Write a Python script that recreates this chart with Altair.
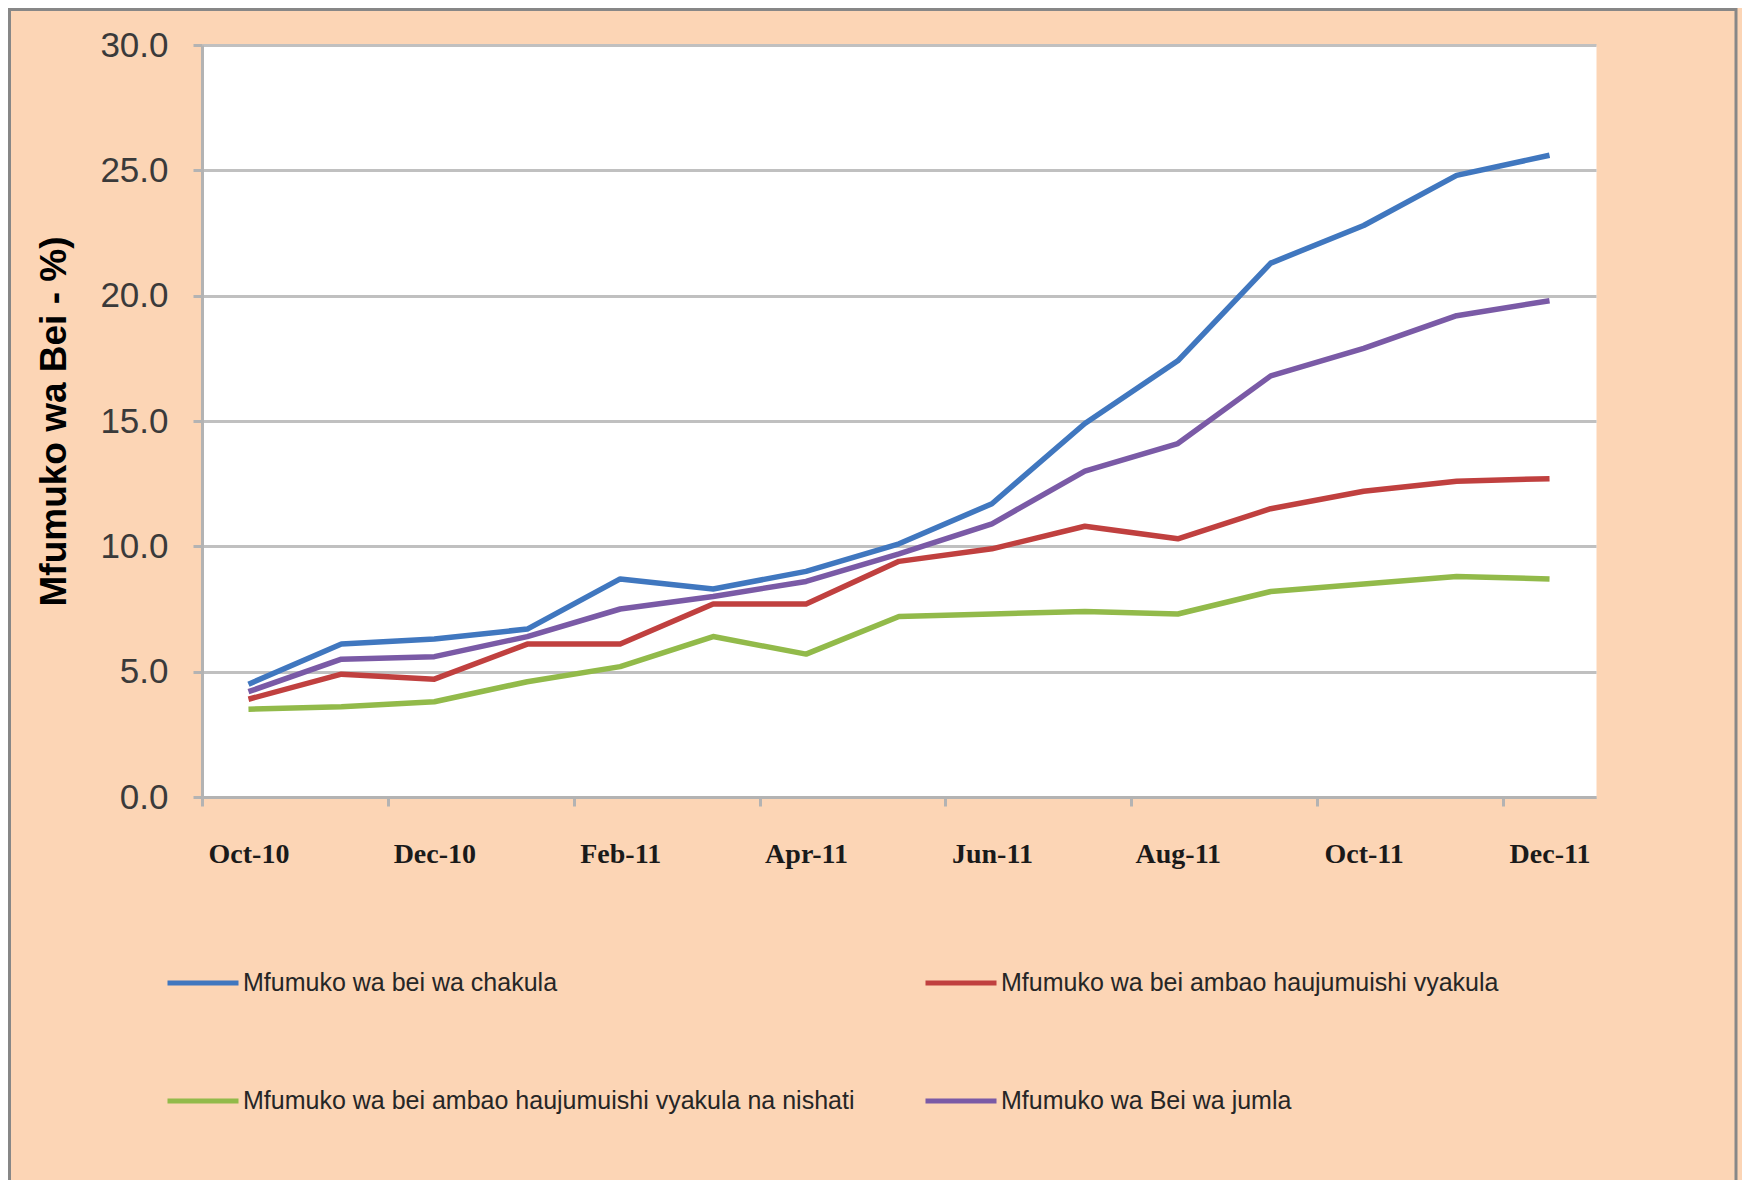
import altair as alt
import pandas as pd

months = ["Oct-10", "Nov-10", "Dec-10", "Jan-11", "Feb-11", "Mar-11", "Apr-11",
          "May-11", "Jun-11", "Jul-11", "Aug-11", "Sep-11", "Oct-11", "Nov-11", "Dec-11"]

series_names = [
    "Mfumuko wa bei wa chakula",
    "Mfumuko wa bei ambao haujumuishi vyakula",
    "Mfumuko wa bei ambao haujumuishi vyakula na nishati",
    "Mfumuko wa Bei wa jumla",
]
series_colors = ["#4077BF", "#C0403F", "#92BA4A", "#7A5AA6"]

chakula = [4.5, 6.1, 6.3, 6.7, 8.7, 8.3, 9.0, 10.1, 11.7, 14.9, 17.4, 21.3, 22.8, 24.8, 25.6]
bila_vyakula = [3.9, 4.9, 4.7, 6.1, 6.1, 7.7, 7.7, 9.4, 9.9, 10.8, 10.3, 11.5, 12.2, 12.6, 12.7]
bila_vyakula_nishati = [3.5, 3.6, 3.8, 4.6, 5.2, 6.4, 5.7, 7.2, 7.3, 7.4, 7.3, 8.2, 8.5, 8.8, 8.7]
jumla = [4.2, 5.5, 5.6, 6.4, 7.5, 8.0, 8.6, 9.7, 10.9, 13.0, 14.1, 16.8, 17.9, 19.2, 19.8]

y_ticks = [0, 5, 10, 15, 20, 25, 30]

rows = []
for name, vals in zip(series_names, [chakula, bila_vyakula, bila_vyakula_nishati, jumla]):
    for i, v in enumerate(vals):
        rows.append({"i": i, "month": months[i], "series": name, "value": v, "order": series_names.index(name)})
df = pd.DataFrame(rows)

W, H = 1394, 752
step = W / len(months)
label_expr = "[" + ",".join("'%s'" % m for m in months) + "][round(datum.value + 0.5)]"
tick_vals = [k - 0.5 for k in range(0, len(months), 2)]

lines = alt.Chart(df).mark_line(strokeWidth=5.5, strokeCap="butt", strokeJoin="round").encode(
    x=alt.X("i:Q", scale=alt.Scale(domain=[-0.5, len(months) - 0.5], nice=False, zero=False),
            axis=alt.Axis(values=tick_vals, labelExpr=label_expr, labelOffset=step / 2,
                          title=None, grid=False, tickSize=9, tickWidth=3, tickColor="#B3B3B3",
                          domainColor="#B3B3B3", domainWidth=3, labelFlush=False,
                          labelOverlap=False, labelBound=False,
                          labelFont="Liberation Serif", labelFontWeight="bold", labelFontSize=28,
                          labelColor="#1a1a1a", labelPadding=34)),
    y=alt.Y("value:Q", scale=alt.Scale(domain=[0, 30], nice=False),
            axis=alt.Axis(values=y_ticks, format=".1f", title="Mfumuko wa Bei - %)",
                          grid=True, gridColor="#C0C0C0", gridWidth=3,
                          tickSize=9, tickWidth=3, tickColor="#B3B3B3",
                          domainColor="#B3B3B3", domainWidth=3,
                          labelFont="Liberation Sans", labelFontSize=35, labelColor="#3a3a3a",
                          labelPadding=25,
                          titleFont="Liberation Sans", titleFontWeight="bold", titleFontSize=37,
                          titleColor="#000000", titleAngle=270, titleX=-148, titleY=H / 2,
                          titleAlign="center", titleBaseline="middle")),
    color=alt.Color("series:N", scale=alt.Scale(domain=series_names, range=series_colors),
                    sort=series_names,
                    legend=alt.Legend(title=None, orient="none", legendX=-37, legendY=900,
                                      columns=2, direction="horizontal",
                                      symbolType="stroke", symbolSize=5041, symbolStrokeWidth=5,
                                      labelFont="Liberation Sans", labelFontSize=25,
                                      labelColor="#262626", labelLimit=2000, labelOffset=2,
                                      columnPadding=60, rowPadding=67, padding=0)),
    order=alt.Order("order:Q"),
)

border = alt.Chart(alt.Data(values=[{}])).mark_rect(
    fill="transparent", stroke="#878787", strokeWidth=3
).encode(
    x=alt.value(-192.5), x2=alt.value(1534), y=alt.value(-35.5), y2=alt.value(1300)
)

chart = alt.layer(border, lines).properties(
    width=W, height=H,
    autosize=alt.AutoSizeParams(type="none"),
    padding={"left": 194, "top": 37, "right": 146, "bottom": 386},
).configure(background="#FCD5B5").configure_view(fill="white", stroke="transparent")

chart.save("out.html", embed_options={"renderer": "svg", "actions": False})
